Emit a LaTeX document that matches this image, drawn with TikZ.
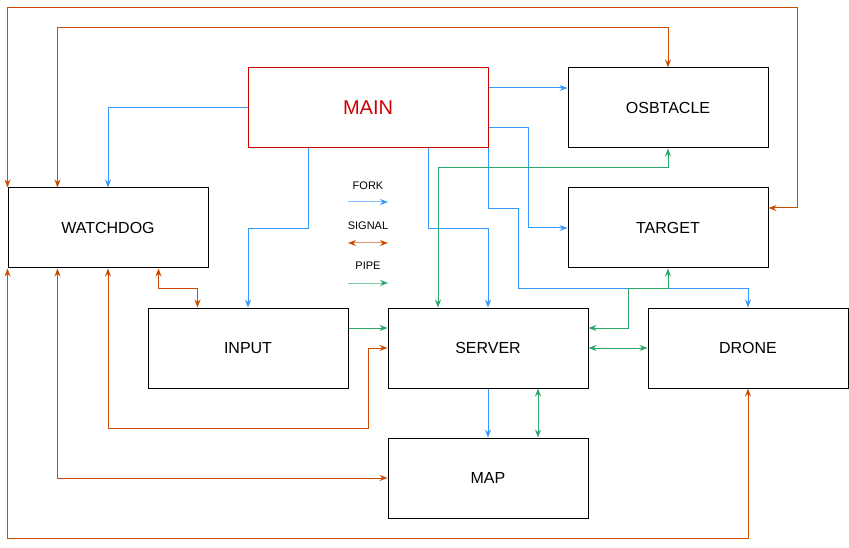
\documentclass[tikz,border=0pt]{standalone}
\usepackage{fontspec}
\setmainfont{Liberation Sans}
\usetikzlibrary{arrows.meta, calc}
\definecolor{forkblue}{HTML}{3399FF}
\definecolor{signalorange}{HTML}{CC4C02}
\definecolor{pipegreen}{HTML}{2BA66B}
\definecolor{mainred}{HTML}{CC0000}
\tikzstyle{procclass} = [rectangle, minimum width=200pt, minimum height=80pt, draw=black, line width=1pt, fill=white, font=\fontsize{16}{19}\selectfont, inner sep=0pt]
\tikzstyle{mainclass} = [procclass, minimum width=240pt, draw=mainred, text=mainred, font=\fontsize{20}{24}\selectfont]
\tikzstyle{legendtext} = [font=\fontsize{11}{13}\selectfont, inner sep=0pt]
\tikzstyle{fork} = [line width=1pt, draw=forkblue, -{Stealth[length=8pt,width=6pt]}]
\tikzstyle{pipe} = [line width=1pt, draw=pipegreen, -{Stealth[length=8pt,width=6pt]}]
\tikzstyle{pipeboth} = [line width=1pt, draw=pipegreen, {Stealth[length=8pt,width=6pt]}-{Stealth[length=8pt,width=6pt]}]
\tikzstyle{signal} = [line width=1pt, draw=signalorange, {Stealth[length=8pt,width=6pt]}-{Stealth[length=8pt,width=6pt]}]
\begin{document}
\begin{tikzpicture}[x=1pt, y=-1pt, node distance=120pt]
	\useasboundingbox (0,0) rectangle (849,548);
	\node (main) [mainclass] at (368,108) {MAIN};
	\node (osb) [procclass, right of=main, xshift=180pt] {OSBTACLE};
	\node (target) [procclass, below of=osb] {TARGET};
	\node (watchdog) [procclass, left of=main, xshift=-140pt, yshift=-120pt] {WATCHDOG};
	\node (server) [procclass, below of=target, xshift=-180pt] {SERVER};
	\node (input) [procclass, left of=server, xshift=-120pt] {INPUT};
	\node (drone) [procclass, right of=server, xshift=140pt] {DRONE};
	\node (map) [procclass, below of=server, yshift=-10pt] {MAP};

	% legend
	\node (lfork) [legendtext] at (368,186) {FORK};
	\node (lsignal) [legendtext] at (368,226) {SIGNAL};
	\node (lpipe) [legendtext] at (368,266) {PIPE};
	\coordinate (fa) at (348,202); \coordinate (fb) at (388,202);
	\coordinate (sa) at (348,243); \coordinate (sb) at (388,243);
	\coordinate (pa) at (348,283); \coordinate (pb) at (388,283);
	\draw[fork, draw=forkblue!60, -{Stealth[length=8pt,width=6pt,color=forkblue]}] (fa) -- (fb);
	\draw[signal, draw=signalorange!60, {Stealth[length=8pt,width=6pt,color=signalorange]}-{Stealth[length=8pt,width=6pt,color=signalorange]}] (sa) -- (sb);
	\draw[pipe, draw=pipegreen!60, -{Stealth[length=8pt,width=6pt,color=pipegreen]}] (pa) -- (pb);

	% fork
	\draw[fork] ($(main.east)+(0,-20)$) -- ($(osb.west)+(0,-20)$);
	\draw[fork] (main.west) -| (watchdog.north);
	\draw[fork] ($(main.south)+(-60,0)$) -- ++(0,80) -| (input.north);
	\draw[fork] ($(main.south)+(60,0)$) -- ++(0,80) -| (server.north);
	\draw[fork] ($(main.east)+(0,20)$) -- ++(40,0) |- (target.west);
	\draw[fork] (main.south east) -- ++(0,60) -- ++(30,0) -- ++(0,80) -| (drone.north);
	\draw[fork] (server.south) -- (map.north);

	% pipe
	\draw[pipe] ($(input.east)+(0,-20)$) -- ($(server.west)+(0,-20)$);
	\draw[pipeboth] ($(server.north)+(-50,0)$) -- ++(0,-140) -| (osb.south);
	\draw[pipeboth] ($(server.east)+(0,-20)$) -- ++(40,0) -- ++(0,-40) -| (target.south);
	\draw[pipeboth] (server.east) -- (drone.west);
	\draw[pipeboth] ($(server.south)+(50,0)$) -- ($(map.north)+(50,0)$);

	% signal
	\draw[signal] (watchdog.north west) -- ++(0,-180) -- ++(790,0) |- ($(target.east)+(0,-20)$);
	\draw[signal] ($(watchdog.north west)+(50,0)$) -- ++(0,-160) -| (osb.north);
	\draw[signal] ($(watchdog.south east)+(-50,0)$) -- ++(0,20) -| ($(input.north west)+(50,0)$);
	\draw[signal] (watchdog.south) -- ++(0,160) -- ++(260,0) |- (server.west);
	\draw[signal] ($(watchdog.south west)+(50,0)$) |- (map.west);
	\draw[signal] (watchdog.south west) -- ++(0,270) -| (drone.south);
\end{tikzpicture}
\end{document}
